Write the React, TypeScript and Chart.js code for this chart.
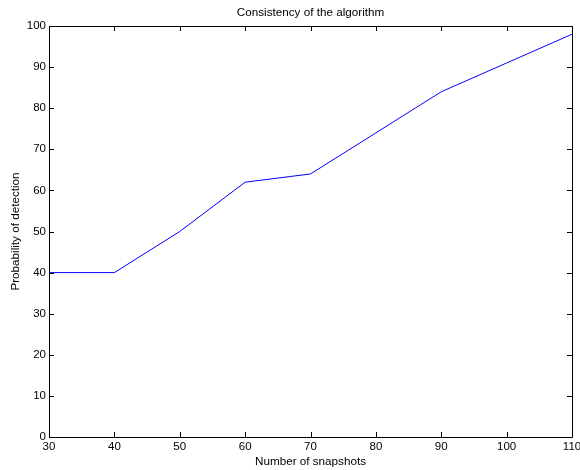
import React, { useEffect, useRef } from "react";
import { Chart, registerables } from "chart.js";

Chart.register(...registerables);

const snapshots = [30, 40, 50, 60, 70, 80, 90, 100, 110];
const detection = [40, 40, 50, 62, 64, 74, 84, 91, 98];
const xTicks = [30, 40, 50, 60, 70, 80, 90, 100, 110];
const yTicks = [0, 10, 20, 30, 40, 50, 60, 70, 80, 90, 100];
const chartTitle = "Consistency of the algorithm";

const FONT = "Liberation Sans, Arial, Helvetica, sans-serif";

const boxPlugin = {
  id: "matlabBox",
  afterDraw(chart: any) {
    const { ctx, chartArea: a, scales } = chart;
    const xs = scales.x;
    const ys = scales.y;
    const L = 5;
    ctx.save();
    ctx.strokeStyle = "#000";
    ctx.lineWidth = 1;
    ctx.beginPath();
    for (const v of xTicks) {
      const px = Math.round(xs.getPixelForValue(v)) + 0.5;
      ctx.moveTo(px, a.bottom);
      ctx.lineTo(px, a.bottom - L);
      ctx.moveTo(px, a.top);
      ctx.lineTo(px, a.top + L);
    }
    for (const v of yTicks) {
      const py = Math.round(ys.getPixelForValue(v)) + 0.5;
      ctx.moveTo(a.left, py);
      ctx.lineTo(a.left + L, py);
      ctx.moveTo(a.right, py);
      ctx.lineTo(a.right - L, py);
    }
    ctx.stroke();
    ctx.beginPath();
    ctx.rect(Math.round(a.left) + 0.5, Math.round(a.top) + 0.5, Math.round(a.right - a.left), Math.round(a.bottom - a.top));
    ctx.stroke();
    ctx.fillStyle = "#000";
    ctx.font = `11.7px ${FONT}`;
    ctx.textAlign = "center";
    ctx.textBaseline = "middle";
    ctx.fillText(chartTitle, (a.left + a.right) / 2, 13);
    ctx.restore();
  },
};

export default function App() {
  const ref = useRef<HTMLCanvasElement | null>(null);
  useEffect(() => {
    document.body.style.margin = "0";
    const canvas = ref.current;
    if (!canvas) return;
    const chart = new Chart(canvas, {
      type: "line",
      data: {
        datasets: [
          {
            data: snapshots.map((x, i) => ({ x, y: detection[i] })),
            borderColor: "#0000ff",
            borderWidth: 1,
            pointRadius: 0,
            tension: 0,
            fill: false,
          },
        ],
      },
      options: {
        animation: false,
        responsive: false,
        layout: { padding: { left: 0, right: 8, top: 26, bottom: 0 } },
        plugins: {
          legend: { display: false },
          tooltip: { enabled: false },
          title: { display: false },
        },
        scales: {
          x: {
            type: "linear",
            min: 30,
            max: 110,
            afterBuildTicks: (s: any) => {
              s.ticks = xTicks.map((v) => ({ value: v }));
            },
            afterFit: (s: any) => {
              s.height = 33;
              s.paddingLeft = 0;
              s.paddingRight = 0;
            },
            grid: { display: false, drawTicks: false },
            border: { display: false },
            ticks: {
              color: "#000",
              padding: 3,
              maxRotation: 0,
              autoSkip: false,
              font: { family: FONT, size: 11.5 },
            },
            title: {
              display: true,
              text: "Number of snapshots",
              color: "#000",
              font: { family: FONT, size: 11.7 },
              padding: { top: 0, bottom: 1 },
            },
          },
          y: {
            type: "linear",
            min: 0,
            max: 100,
            afterBuildTicks: (s: any) => {
              s.ticks = yTicks.map((v) => ({ value: v }));
            },
            afterFit: (s: any) => {
              s.width = 49;
              s.paddingTop = 0;
              s.paddingBottom = 0;
            },
            grid: { display: false, drawTicks: false },
            border: { display: false },
            ticks: {
              color: "#000",
              padding: 3,
              autoSkip: false,
              font: { family: FONT, size: 11.5 },
            },
            title: {
              display: true,
              text: "Probability of detection",
              color: "#000",
              font: { family: FONT, size: 11.7 },
              padding: { top: 9, bottom: 0 },
            },
          },
        },
      },
      plugins: [boxPlugin],
    } as any);
    return () => chart.destroy();
  }, []);
  return <canvas ref={ref} width={580} height={470} style={{ display: "block" }} />;
}
